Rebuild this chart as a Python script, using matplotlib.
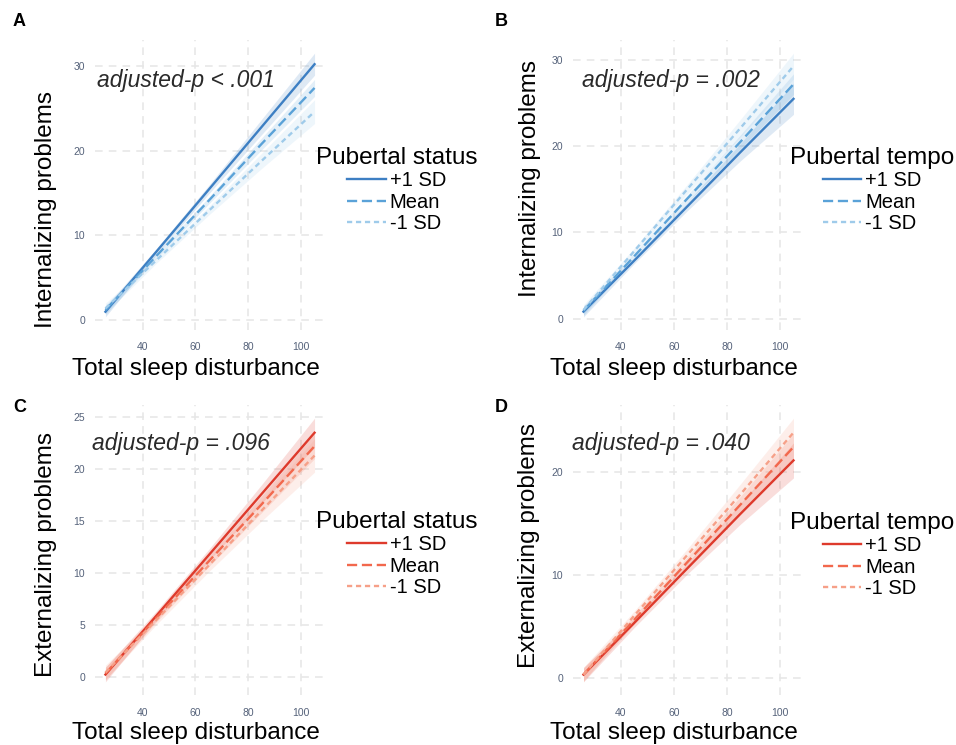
import numpy as np
import matplotlib
matplotlib.use("Agg")
import matplotlib.pyplot as plt

plt.rcParams['font.family'] = ['Liberation Sans', 'DejaVu Sans']

# x positions where predictions / bands were read
x_pts = [26, 45, 65, 85, 105]
x_ticks = [40, 60, 80, 100]
series_names = ["+1 SD", "Mean", "-1 SD"]

# predicted values (+1 SD, Mean, -1 SD) per panel
fit_A = [[1.0, 8.0, 15.4, 22.8, 30.2],
         [1.2, 7.5, 14.1, 20.8, 27.4],
         [1.4, 7.0, 12.9, 18.8, 24.6]]
fit_B = [[0.8, 6.7, 13.0, 19.3, 25.5],
         [0.9, 7.2, 13.9, 20.5, 27.2],
         [1.0, 7.8, 15.0, 22.1, 29.3]]
fit_C = [[0.2, 5.8, 11.7, 17.6, 23.5],
         [0.3, 5.6, 11.1, 16.6, 22.2],
         [0.4, 5.4, 10.7, 16.0, 21.3]]
fit_D = [[0.3, 5.3, 10.6, 15.9, 21.1],
         [0.3, 5.6, 11.2, 16.8, 22.4],
         [0.3, 6.0, 11.9, 17.8, 23.8]]

# half width of the confidence bands
hw_A = [[0.6, 0.35, 0.5, 0.9, 1.3],
        [0.5, 0.3, 0.4, 0.7, 1.0],
        [0.6, 0.35, 0.5, 0.9, 1.4]]
hw_B = [[0.6, 0.35, 0.5, 1.0, 1.8],
        [0.5, 0.3, 0.4, 0.8, 1.2],
        [0.6, 0.35, 0.55, 1.0, 1.5]]
hw_C = [[0.7, 0.45, 0.55, 0.9, 1.4],
        [0.6, 0.4, 0.5, 0.8, 1.2],
        [0.7, 0.45, 0.6, 1.0, 1.6]]
hw_D = [[0.7, 0.45, 0.55, 1.0, 1.7],
        [0.6, 0.4, 0.5, 0.8, 1.3],
        [0.7, 0.45, 0.6, 1.0, 1.4]]

y_ticks_A = [0, 10, 20, 30]
y_ticks_B = [0, 10, 20, 30]
y_ticks_C = [0, 5, 10, 15, 20, 25]
y_ticks_D = [0, 10, 20]

blues = ['#3d7fc3', '#5aa2d8', '#9fcbea']
reds = ['#de3a2c', '#f2684d', '#f6a088']
styles = [dict(ls='-'), dict(dashes=(4.3, 2.0)), dict(dashes=(2.2, 1.6))]

W, H = 956, 745
fig = plt.figure(figsize=(W / 100, H / 100), dpi=100)


def px_axes(l, t, r, b):
    return fig.add_axes([l / W, 1 - b / H, (r - l) / W, (b - t) / H])


panels = [
    dict(letter="A", box=(95, 40, 325, 330), fit=fit_A, hw=hw_A, yt=y_ticks_A, col=blues,
         ylab="Internalizing problems", note="adjusted-p < .001", leg="Pubertal status",
         ylc=(-0.165, 0.417), xlc=(0.441, -0.095), nc=(0.009, 0.862), lgp=(316, 147), lp=(13, 22)),
    dict(letter="B", box=(573, 40, 804, 330), fit=fit_B, hw=hw_B, yt=y_ticks_B, col=blues,
         ylab="Internalizing problems", note="adjusted-p = .002", leg="Pubertal tempo",
         ylc=(-0.139, 0.522), xlc=(0.435, -0.095), nc=(0.038, 0.862), lgp=(790, 147), lp=(495, 22)),
    dict(letter="C", box=(95, 405, 325, 695), fit=fit_C, hw=hw_C, yt=y_ticks_C, col=reds,
         ylab="Externalizing problems", note="adjusted-p = .096", leg="Pubertal status",
         ylc=(-0.165, 0.483), xlc=(0.439, -0.092), nc=(-0.014, 0.868), lgp=(316, 511), lp=(13, 408)),
    dict(letter="D", box=(573, 405, 804, 695), fit=fit_D, hw=hw_D, yt=y_ticks_D, col=reds,
         ylab="Externalizing problems", note="adjusted-p = .040", leg="Pubertal tempo",
         ylc=(-0.143, 0.516), xlc=(0.435, -0.092), nc=(-0.006, 0.868), lgp=(790, 512), lp=(495, 408)),
]

for p in panels:
    ax = px_axes(*p['box'])
    x = np.array(x_pts)
    handles = []
    for i in range(3):
        f = np.array(p['fit'][i])
        h = np.array(p['hw'][i])
        ax.fill_between(x, f - h, f + h, color=p['col'][i], alpha=0.17, lw=0, zorder=2)
    for i in range(3):
        ln, = ax.plot(x, p['fit'][i], color=p['col'][i], lw=1.7, label=series_names[i],
                      zorder=3, **styles[i])
        handles.append(ln)

    ax.set_xticks(x_ticks)
    ax.set_yticks(p['yt'])
    ax.grid(True, color='#e6e6e6', lw=1.1, dashes=(5, 4), zorder=0)
    for s in ax.spines.values():
        s.set_visible(False)
    ax.tick_params(length=0, labelsize=7.5, labelcolor='#55627a', pad=7)
    ax.tick_params(axis='x', pad=9)
    ax.set_facecolor('white')

    ax.set_ylabel(p['ylab'], fontsize=17.5)
    ax.yaxis.set_label_coords(*p['ylc'])
    ax.set_xlabel("Total sleep disturbance", fontsize=17.5, va='top')
    ax.xaxis.set_label_coords(*p['xlc'])

    ax.text(p['nc'][0], p['nc'][1], p['note'], transform=ax.transAxes, fontsize=16.5,
            style='italic', color='#2a2a2a', ha='left', va='center')

    lg = ax.legend(handles=handles, title=p['leg'], loc='upper left',
                   bbox_to_anchor=(p['lgp'][0] / W, 1 - p['lgp'][1] / H),
                   bbox_transform=fig.transFigure, frameon=False, borderpad=0,
                   fontsize=14.5, title_fontsize=17.5, handlelength=1.9,
                   handletextpad=0.2, labelspacing=0.12, borderaxespad=0)

    fig.text(p['lp'][0] / W, 1 - p['lp'][1] / H, p['letter'], fontsize=13,
             fontweight='bold', ha='left', va='center')

fig.savefig("out.png", dpi=100, facecolor='white')
